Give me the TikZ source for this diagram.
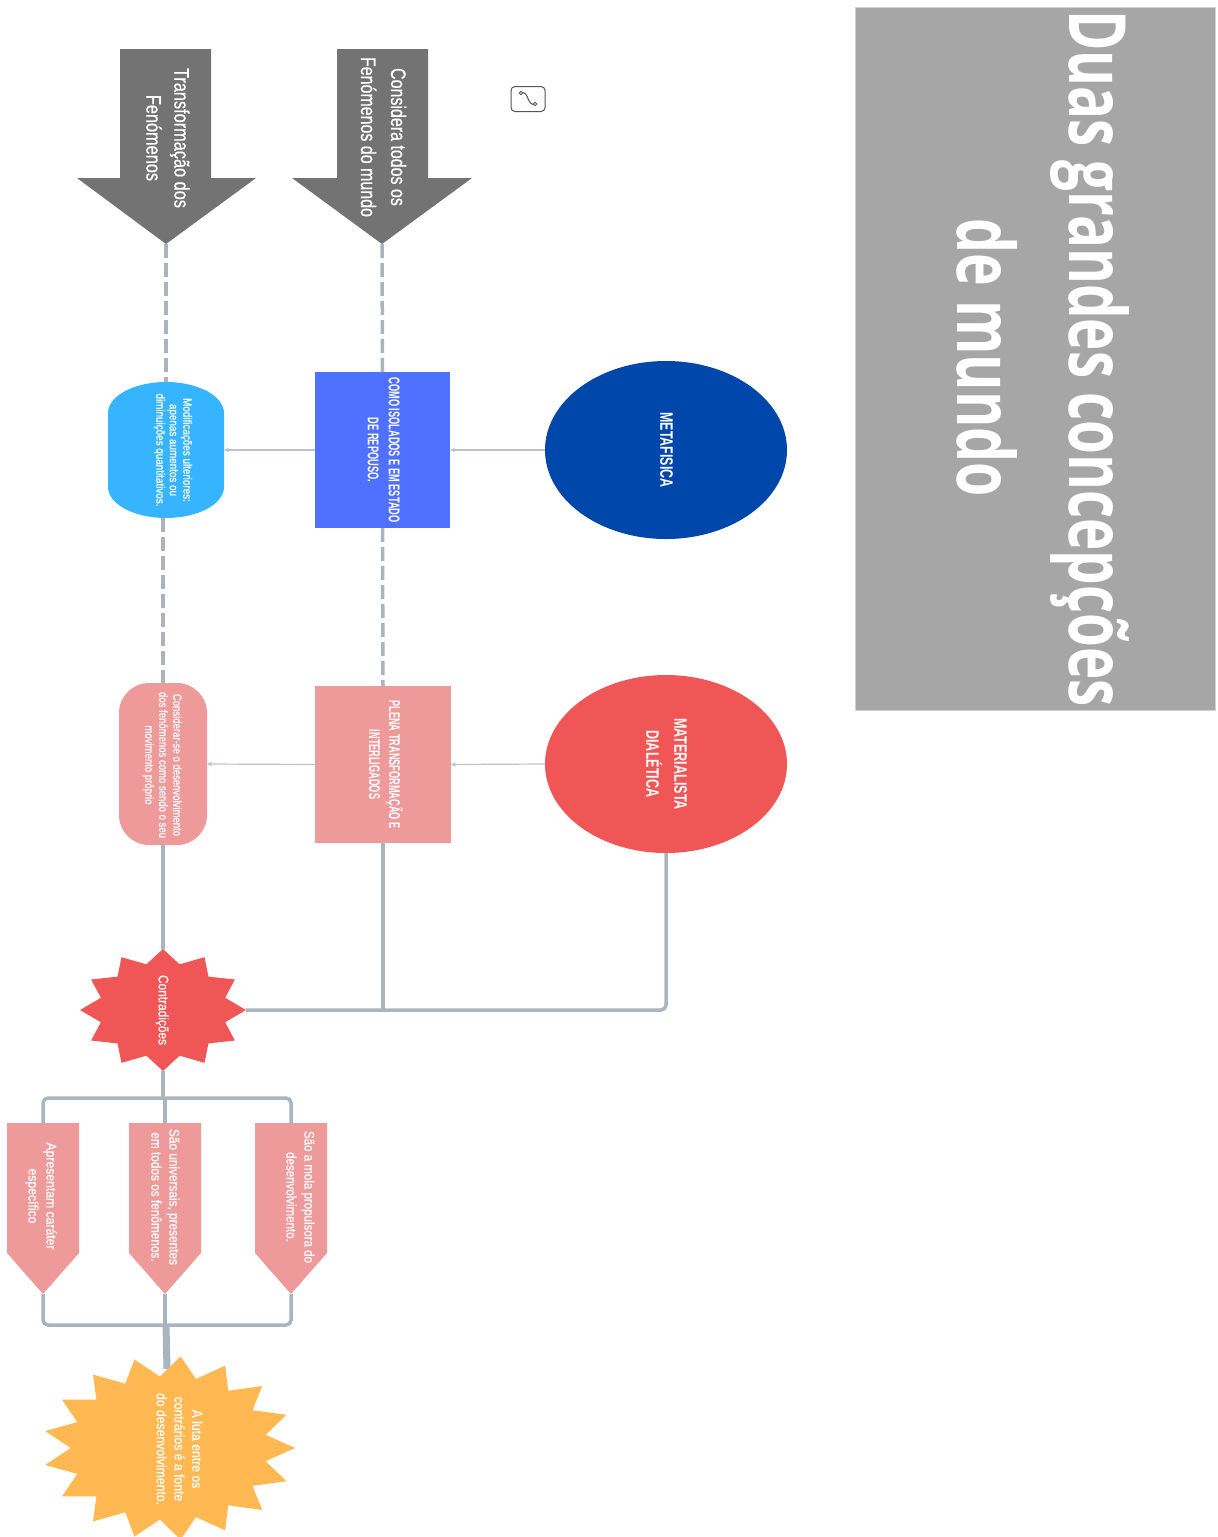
\documentclass[tikz,border=0pt]{standalone}
\usepackage{fontspec}
\setmainfont{Liberation Sans}
\newfontfamily\medfont{Liberation Sans}[FakeBold=0.6]
\newfontfamily\titlefont{Open Sans}
\usepackage{graphicx}
\usetikzlibrary{arrows.meta,shapes.geometric}
\definecolor{titlegray}{HTML}{A6A6A6}
\definecolor{arrowgray}{HTML}{737373}
\definecolor{metablue}{HTML}{0047AB}
\definecolor{matred}{HTML}{F05656}
\definecolor{rectblue}{HTML}{5070FF}
\definecolor{lightblue}{HTML}{36B4FF}
\definecolor{pinkfill}{HTML}{EF9A9A}
\definecolor{sunny}{HTML}{FFB852}
\definecolor{wirec}{HTML}{A9B4BF}
\definecolor{thinwirec}{HTML}{BAC4CD}
\definecolor{icongray}{HTML}{555555}
\newcommand{\fitlines}[2]{\resizebox{#1pt}{\height}{\begin{tabular}{@{}c@{}}#2\end{tabular}}}
\begin{document}
\begin{tikzpicture}[x=1pt,y=-1pt,
  lbl/.style={text=white, inner sep=0pt, outer sep=0pt},
  wire/.style={draw=wirec, line width=3.5pt, rounded corners=5pt},
  dashwire/.style={draw=wirec, line width=3.5pt, dash pattern=on 14pt off 5pt},
  thinarrow/.style={draw=thinwirec, line width=1.2pt, -{Stealth[length=5pt,width=4.5pt]}},
  boxnode/.style={inner sep=0pt, outer sep=0pt, text=white},
]
\useasboundingbox (0,0) rectangle (1218,1537);

% ---------- title ----------
\node[boxnode, fill=titlegray, draw=gray!35, line width=0.8pt,
      minimum width=360pt, minimum height=703pt] (titlebox) at (1035,358.5) {};
\node[lbl, anchor=north] (title1) at (1090.5,10)
  {\rotatebox{-90}{\resizebox{697pt}{\height}{\titlefont\bfseries\fontsize{79pt}{79pt}\selectfont Duas grandes concepções}}};
\node[lbl, anchor=north] (title2) at (987,218)
  {\rotatebox{-90}{\resizebox{279pt}{\height}{\titlefont\bfseries\fontsize{79pt}{79pt}\selectfont de mundo}}};

% ---------- small icon ----------
\node[draw=icongray, fill=white, line width=1pt, rounded corners=4pt,
      minimum width=34pt, minimum height=25pt, inner sep=0pt] (icon) at (528,99) {};
\coordinate (ic1) at (521,93);
\coordinate (ic2) at (535,104);
\draw[icongray, line width=1pt] (ic1) .. controls (529,90) and (527,107) .. (ic2);
\draw[icongray, line width=0.9pt, fill=white] (ic1) circle[radius=1.8pt];
\draw[icongray, line width=0.9pt, fill=white] (ic2) circle[radius=1.8pt];

% ---------- fat gray arrows ----------
\fill[arrowgray] (120,49) -- (211,49) -- (211,178) -- (256,178) -- (166,244) -- (77,178) -- (120,178) -- cycle;
\coordinate (tipA) at (166,244);
\node[lbl, font=\medfont\fontsize{21pt}{28pt}\selectfont] (txtA) at (166,138)
  {\rotatebox{-90}{\fitlines{140}{Transformação dos\\Fenómenos}}};

\fill[arrowgray] (337,49) -- (428,49) -- (428,178) -- (472,178) -- (382,244) -- (292,178) -- (337,178) -- cycle;
\coordinate (tipB) at (382,244);
\node[lbl, font=\medfont\fontsize{21pt}{30pt}\selectfont] (txtB) at (382,137)
  {\rotatebox{-90}{\fitlines{160}{Considera todos os\\Fenómenos do mundo}}};

% ---------- ellipses ----------
\node[ellipse, boxnode, fill=metablue, minimum width=242pt, minimum height=178pt,
      font=\bfseries\fontsize{18pt}{28pt}\selectfont] (meta) at (666,450)
  {\rotatebox{-90}{\fitlines{75}{METAFISICA}}};
\node[ellipse, boxnode, fill=matred, minimum width=242pt, minimum height=178pt,
      font=\bfseries\fontsize{18pt}{28pt}\selectfont] (mat) at (666,764)
  {\rotatebox{-90}{\fitlines{92}{MATERIALISTA\\DIALÉTICA}}};

% ---------- rectangles ----------
\node[boxnode, fill=rectblue, minimum width=135pt, minimum height=156pt,
      font=\bfseries\fontsize{15.5pt}{21pt}\selectfont] (isol) at (382.5,450)
  {\rotatebox{-90}{\fitlines{145}{COMO ISOLADOS E EM ESTADO\\DE REPOUSO.}}};
\node[boxnode, fill=pinkfill, minimum width=136pt, minimum height=157pt,
      font=\bfseries\fontsize{15.5pt}{20pt}\selectfont] (plena) at (383,764.5)
  {\rotatebox{-90}{\fitlines{128}{PLENA TRANSFORMAÇÃO E\\INTERLIGADOS}}};

% ---------- light blue blob ----------
\fill[lightblue] (108,413) .. controls (108,395.9) and (134,382) .. (166,382)
  .. controls (198,382) and (224,395.9) .. (224,413) -- (224,487)
  .. controls (224,504.1) and (198,518) .. (166,518)
  .. controls (134,518) and (108,504.1) .. (108,487) -- cycle;
\coordinate (modifN) at (166,382);
\coordinate (modifS) at (163,518);
\coordinate (modifE) at (224,450);
\node[lbl, font=\medfont\fontsize{12pt}{13.5pt}\selectfont] (modif) at (172.5,450)
  {\rotatebox{-90}{\fitlines{113}{Modificações ulteriores:\\apenas aumentos ou\\diminuições quantitativos.}}};

% ---------- pink blob ----------
\fill[pinkfill, rounded corners=30pt] (119,683) rectangle (207,845);
\coordinate (considN) at (163,683);
\coordinate (considS) at (163,845);
\coordinate (considE) at (207,764);
\node[lbl, font=\medfont\fontsize{12pt}{14pt}\selectfont] (consid) at (162,765)
  {\rotatebox{-90}{\fitlines{146}{Considerar-se o desenvolvimento\\dos fenómenos como sendo o seu\\movimento próprio}}};

% ---------- connectors ----------
\draw[dashwire] (tipA) -- (modifN);
\draw[dashwire] (modifS) -- (considN);
\draw[dashwire] (tipB) -- (isol.north);
\draw[dashwire] (isol.south) -- (plena.north);

\coordinate (contraN) at (163,949);
\coordinate (contraE) at (246,1010);
\coordinate (contraS) at (163,1071);
\draw[wire] (considS) -- (contraN);
\draw[wire] (plena.south) -- (plena.south |- contraE);
\draw[wire] (mat.south) -- (mat.south |- contraE) -- (contraE);

\draw[thinarrow] (meta.west) -- (isol.east);
\draw[thinarrow] (isol.west) -- (modifE);
\draw[thinarrow] (mat.west) -- (plena.east);
\draw[thinarrow] (plena.west) -- (considE);

% ---------- Contradicoes star ----------
\fill[matred] plot[samples at={0,...,23}, variable=\k]
  ({163+83*(1-0.225*mod(\k,2))*cos(15*\k)}, {1010+61*(1-0.225*mod(\k,2))*sin(15*\k)}) -- cycle;
\node[lbl, font=\medfont\fontsize{14pt}{17pt}\selectfont] (contra) at (162,1010)
  {\rotatebox{-90}{\fitlines{70}{Contradições}}};

% ---------- pentagons ----------
\fill[pinkfill] (7,1123) -- (79,1123) -- (79,1253) -- (43,1294) -- (7,1253) -- cycle;
\fill[pinkfill] (129,1123) -- (201,1123) -- (201,1253) -- (165,1294) -- (129,1253) -- cycle;
\fill[pinkfill] (255,1123) -- (327,1123) -- (327,1253) -- (291,1294) -- (255,1253) -- cycle;
\coordinate (paT) at (43,1123);  \coordinate (paB) at (43,1294);
\coordinate (pbT) at (165,1123); \coordinate (pbB) at (165,1294);
\coordinate (pcT) at (291,1123); \coordinate (pcB) at (291,1294);
\node[lbl, font=\medfont\fontsize{14pt}{18pt}\selectfont] (pa) at (41,1196)
  {\rotatebox{-90}{\fitlines{107}{Apresentam caráter\\específico}}};
\node[lbl, font=\medfont\fontsize{14pt}{18pt}\selectfont] (pb) at (164,1197)
  {\rotatebox{-90}{\fitlines{136}{São universais, presentes\\em todos os fenômenos.}}};
\node[lbl, font=\medfont\fontsize{14pt}{18pt}\selectfont] (pc) at (299,1197)
  {\rotatebox{-90}{\fitlines{132}{São a mola propulsora do\\desenvolvimento.}}};

\coordinate (split) at (163,1098);
\coordinate (merge) at (166,1325);
\coordinate (lutaN) at (167,1369);
\draw[wire] (contraS) -- (split);
\draw[wire] (paT) -- (paT |- split) -- (pcT |- split) -- (pcT);
\draw[wire] (pbT) -- (pbT |- split);
\draw[wire] (paB) -- (paB |- merge) -- (pcB |- merge) -- (pcB);
\draw[wire] (pbB) -- (pbB |- merge);
\draw[wire, line width=7pt] (merge) -- (lutaN);

% ---------- yellow star ----------
\fill[sunny] plot[samples at={0,...,33}, variable=\k]
  ({169+126*(1-0.22*mod(\k,2))*cos(180/17*\k)}, {1448+92*(1-0.22*mod(\k,2))*sin(180/17*\k)}) -- cycle;
\node[lbl, font=\medfont\fontsize{14pt}{17.7pt}\selectfont] (luta) at (178,1449)
  {\rotatebox{-90}{\fitlines{112}{A luta entre os\\contrários é a fonte\\do desenvolvimento.}}};
\end{tikzpicture}
\end{document}
